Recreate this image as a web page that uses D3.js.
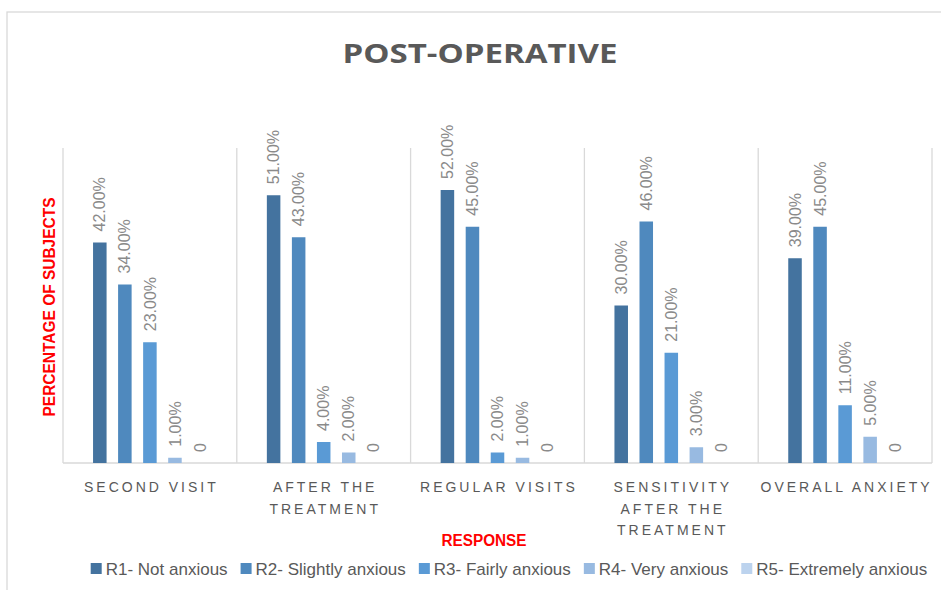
<!DOCTYPE html>
<html>
<head>
<meta charset="utf-8">
<script src="https://cdn.jsdelivr.net/npm/d3@7/dist/d3.min.js"></script>
<style>
  html, body { margin: 0; padding: 0; background: #ffffff; }
  svg { display: block; }
</style>
</head>
<body>
<svg id="chart" width="941" height="590"></svg>
<script>
// ---- data ----
const categories = ["SECOND VISIT", "AFTER THE TREATMENT", "REGULAR VISITS", "SENSITIVITY AFTER THE TREATMENT", "OVERALL ANXIETY"];
const seriesNames = ["R1- Not anxious", "R2- Slightly anxious", "R3- Fairly anxious", "R4- Very anxious", "R5- Extremely anxious"];
const r1 = [0.42, 0.51, 0.52, 0.30, 0.39];
const r2 = [0.34, 0.43, 0.45, 0.46, 0.45];
const r3 = [0.23, 0.04, 0.02, 0.21, 0.11];
const r4 = [0.01, 0.02, 0.01, 0.03, 0.05];
const r5 = [0, 0, 0, 0, 0];
const seriesValues = [r1, r2, r3, r4, r5];
const seriesColors = ["#44739f", "#4f89be", "#5a9ad5", "#98bae1", "#bcd3ee"];
const yMax = 0.6;

// ---- layout ----
const svg = d3.select("#chart");
const plot = { left: 63, right: 932, top: 148, bottom: 463 };

// outer chart border
svg.append("rect")
  .attr("x", 7).attr("y", 12)
  .attr("width", 960).attr("height", 600)
  .attr("fill", "none").attr("stroke", "#d9d9d9").attr("stroke-width", 1.3);

const x0 = d3.scaleBand().domain(categories).range([plot.left, plot.right]).paddingInner(0).paddingOuter(0);
const x1 = d3.scaleBand().domain(seriesNames).range([0, x0.bandwidth()]).paddingInner(0.46).paddingOuter(1.2);
const y = d3.scaleLinear().domain([0, yMax]).range([plot.bottom, plot.top]);

// vertical separators
const bounds = categories.map(c => x0(c)).concat([plot.right]);
svg.append("g").selectAll("line").data(bounds).join("line")
  .attr("x1", d => d).attr("x2", d => d)
  .attr("y1", y(yMax)).attr("y2", y(0))
  .attr("stroke", "#d9d9d9").attr("stroke-width", 1.3);

// baseline
svg.append("line")
  .attr("x1", plot.left).attr("x2", plot.right)
  .attr("y1", y(0)).attr("y2", y(0))
  .attr("stroke", "#d9d9d9").attr("stroke-width", 1.3);

// bars
const rows = [];
categories.forEach((c, ci) => {
  seriesNames.forEach((s, si) => {
    rows.push({ cat: c, ser: s, si: si, v: seriesValues[si][ci] });
  });
});

svg.append("g").selectAll("rect").data(rows).join("rect")
  .attr("x", d => x0(d.cat) + x1(d.ser))
  .attr("width", x1.bandwidth())
  .attr("y", d => y(d.v))
  .attr("height", d => y(0) - y(d.v))
  .attr("fill", d => seriesColors[d.si]);

// data labels
const fmt = v => v === 0 ? "0" : d3.format(".2%")(v);
svg.append("g").selectAll("text").data(rows).join("text")
  .attr("transform", d => {
    const cx = x0(d.cat) + x1(d.ser) + x1.bandwidth() / 2;
    return `translate(${cx},${y(d.v) - 11}) rotate(-90)`;
  })
  .attr("dy", "0.35em")
  .attr("text-anchor", "start")
  .attr("font-family", "'Liberation Sans', Arial, sans-serif")
  .attr("font-size", 16)
  .attr("fill", "#8a8a8a")
  .text(d => fmt(d.v));

// category labels (wrapped)
const catG = svg.append("g");
categories.forEach(c => {
  const t = catG.append("text")
    .attr("font-family", "'Liberation Sans', Arial, sans-serif")
    .attr("font-size", 14)
    .attr("letter-spacing", 3)
    .attr("fill", "#595959")
    .attr("text-anchor", "middle");
  const words = c.split(" ");
  const lines = [];
  let cur = [];
  const probe = t.append("tspan");
  words.forEach(w => {
    const trial = cur.concat([w]).join(" ");
    probe.text(trial);
    if (probe.node().getComputedTextLength() > 180 && cur.length) {
      lines.push(cur.join(" "));
      cur = [w];
    } else {
      cur.push(w);
    }
  });
  lines.push(cur.join(" "));
  probe.remove();
  const cx = x0(c) + x0.bandwidth() / 2 + 1.5;
  lines.forEach((ln, i) => {
    t.append("tspan").attr("x", cx).attr("y", 492 + i * 21.5).text(ln);
  });
});

// title
svg.append("text")
  .attr("x", 480).attr("y", 63)
  .attr("text-anchor", "middle")
  .attr("font-family", "'Open Sans', 'Liberation Sans', Arial, sans-serif")
  .attr("font-weight", "bold")
  .attr("font-size", 27)
  .attr("fill", "#595959")
  .attr("textLength", 275).attr("lengthAdjust", "spacingAndGlyphs")
  .text("POST-OPERATIVE");

// axis titles
svg.append("text")
  .attr("transform", "translate(55,307) rotate(-90)")
  .attr("text-anchor", "middle")
  .attr("font-family", "'Liberation Sans', Arial, sans-serif")
  .attr("font-weight", "bold")
  .attr("font-size", 16)
  .attr("fill", "#ff0000")
  .attr("textLength", 219).attr("lengthAdjust", "spacingAndGlyphs")
  .text("PERCENTAGE OF SUBJECTS");

svg.append("text")
  .attr("x", 484).attr("y", 546)
  .attr("text-anchor", "middle")
  .attr("font-family", "'Liberation Sans', Arial, sans-serif")
  .attr("font-weight", "bold")
  .attr("font-size", 16)
  .attr("fill", "#ff0000")
  .attr("textLength", 85).attr("lengthAdjust", "spacingAndGlyphs")
  .text("RESPONSE");

// legend
const leg = svg.append("g");
const items = seriesNames.map((s, i) => {
  const g = leg.append("g");
  g.append("rect").attr("x", 0).attr("y", 563).attr("width", 11).attr("height", 11).attr("fill", seriesColors[i]);
  const tx = g.append("text").attr("x", 15).attr("y", 575)
    .attr("font-family", "'Liberation Sans', Arial, sans-serif")
    .attr("font-size", 17)
    .attr("fill", "#595959")
    .text(s);
  return { g, w: 15 + tx.node().getComputedTextLength() };
});
const gap = 13;
const total = d3.sum(items, d => d.w) + gap * (items.length - 1);
let lx = 509 - total / 2;
items.forEach(it => {
  it.g.attr("transform", `translate(${lx},0)`);
  lx += it.w + gap;
});
</script>
</body>
</html>
